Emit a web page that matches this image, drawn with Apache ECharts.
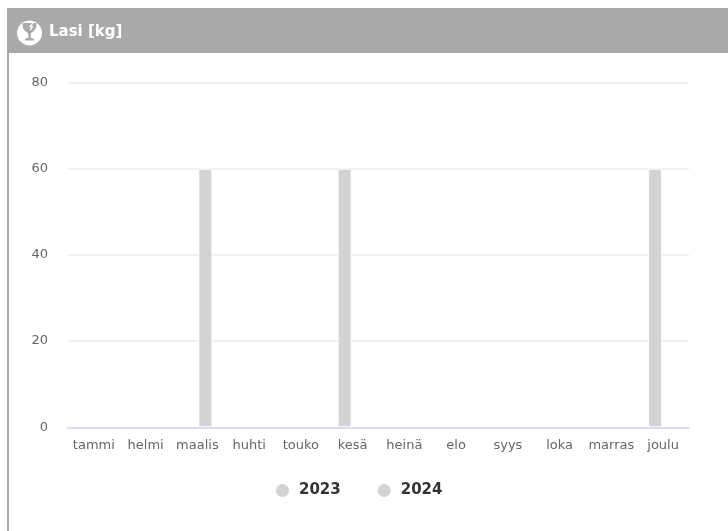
<!DOCTYPE html>
<html><head><meta charset="utf-8">
<style>html,body{margin:0;padding:0;background:#fff}#c{width:728px;height:531px}</style>
<script src="https://cdn.jsdelivr.net/npm/echarts@6/dist/echarts.min.js"></script></head>
<body><div id="c"></div>
<script>
const months=['tammi','helmi','maalis','huhti','touko','kesä','heinä','elo','syys','loka','marras','joulu'];
const values2023=[0,0,0,0,0,60,0,0,0,0,0,60];
const values2024=[0,0,60,0,0,0,0,0,0,0,0,0];
const yTicks={min:0,max:80,interval:20};
const titleText='Lasi [kg]';
const grey='#d3d3d3', font='"DejaVu Sans"';
const chart=echarts.init(document.getElementById('c'),null,{renderer:'canvas'});
const bar=(name,data)=>({name,type:'bar',barWidth:14,barGap:'14%',
  data:data.map(v=>v?v:{value:v,itemStyle:{borderWidth:0,opacity:0}}),
  itemStyle:{color:grey,borderColor:'#fff',borderWidth:1}});
chart.setOption({
  animation:false,
  backgroundColor:'#fff',
  grid:{left:68,right:39,top:82.45,height:344.8},
  title:{text:titleText,left:49,top:25,padding:0,textStyle:{color:'#fff',fontFamily:font,fontSize:15,fontWeight:'bold'}},
  legend:{left:269,bottom:27,itemGap:35,itemWidth:15,itemHeight:15,icon:'circle',
    textStyle:{color:'#333',fontFamily:font,fontSize:15,fontWeight:'bold',padding:[0,0,0,4]}},
  xAxis:{type:'category',data:months,axisTick:{show:false},z:5,
    axisLine:{lineStyle:{color:'#d8def0',width:2}},
    axisLabel:{color:'#666',fontFamily:font,fontSize:13,margin:12,interval:0}},
  yAxis:{type:'value',min:yTicks.min,max:yTicks.max,interval:yTicks.interval,
    axisLine:{show:false},axisTick:{show:false},
    splitLine:{lineStyle:{color:'#f0f0f0',width:2}},
    axisLabel:{color:'#666',fontFamily:font,fontSize:13,margin:20}},
  series:[bar('2023',values2023),bar('2024',values2024)],
  graphic:[
    {type:'rect',z:-1,silent:true,shape:{x:7,y:8,width:721,height:45},style:{fill:'#a9a9a9'}},
    {type:'rect',z:-1,silent:true,shape:{x:7,y:53,width:2,height:478},style:{fill:'#a9a9a9'}},
    {type:'circle',z:5,silent:true,shape:{cx:29.5,cy:33,r:12.5},style:{fill:'#fff'}},
    {type:'polygon',z:6,silent:true,shape:{points:[[22.5,23],[36.5,23],[36,28],[34,31],[31,33],[30.5,37.5],[34,39],[34,40.5],[25,40.5],[25,39],[28.5,37.5],[28,33],[25,31],[23,28]]},style:{fill:'#a9a9a9'}},
    {type:'polyline',z:7,silent:true,shape:{points:[[33,23],[30,26.5],[32.5,27],[30,30]]},style:{stroke:'#fff',fill:'none',lineWidth:1.2}}
  ]
});
</script></body></html>
